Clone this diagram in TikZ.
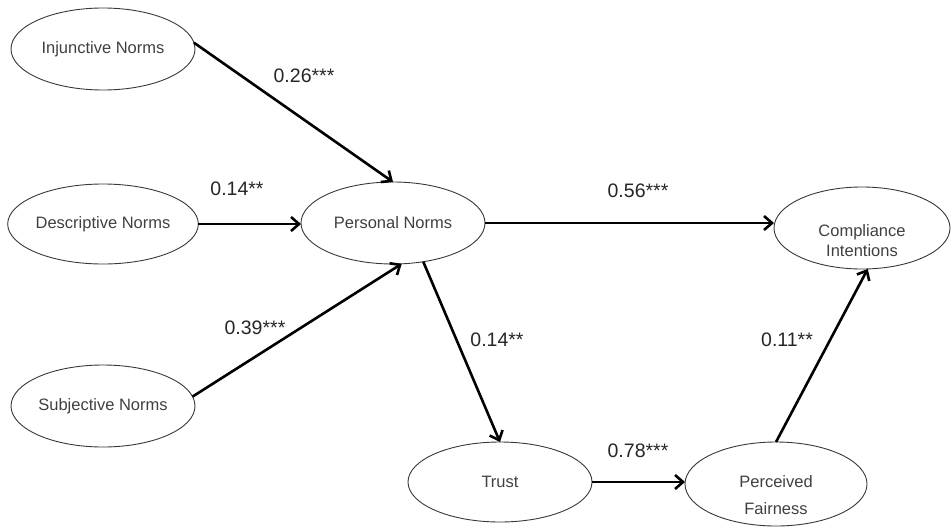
\documentclass[tikz,border=0pt]{standalone}
\usepackage{fontspec}
\setmainfont{Liberation Sans}
\usetikzlibrary{shapes.geometric,arrows.meta}
\begin{document}
\begin{tikzpicture}[x=1pt,y=-1pt,
  latent/.style={ellipse,draw=black!78,line width=0.9pt,inner sep=0pt,outer sep=0pt,
    font=\fontsize{16.5}{19}\selectfont,text=black!75},
  ltext/.style={inner sep=0pt,align=center,text=black!75},
  effect/.style={line width=2.6pt,-{Straight Barb[length=8pt,width=14pt]}},
  coef/.style={font=\fontsize{19.5}{22}\selectfont,text=black!85,inner sep=0pt}]
\useasboundingbox (0,0) rectangle (952,527);
% constructs
\node[latent,minimum width=184pt,minimum height=82pt] (inj) at (103,49) {Injunctive Norms};
\node[latent,minimum width=184pt,minimum height=80pt] (desc) at (103,224) {Descriptive Norms};
\node[latent,minimum width=184pt,minimum height=82pt] (subj) at (103,406) {Subjective Norms};
\node[latent,minimum width=184pt,minimum height=82pt] (pers) at (393,223) {Personal Norms};
\node[latent,minimum width=176pt,minimum height=82pt] (comp) at (862,228) {};
\node[ltext,font=\fontsize{16.5}{20}\selectfont] (comptext) at (862,241) {Compliance\\Intentions};
\node[latent,minimum width=184pt,minimum height=80pt] (trust) at (500,482) {Trust};
\node[latent,minimum width=182pt,minimum height=84pt] (pf) at (776,484) {};
\node[ltext,font=\fontsize{16.5}{27}\selectfont] (pftext) at (776,495) {Perceived\\Fairness};
% paths
\draw[effect] (inj.4) -- (pers.north);
\draw[effect] (desc.east) -- (desc.east -| pers.west);
\draw[effect] (subj.6) -- (pers.-78);
\draw[effect] (pers.east) -- (pers.east -| comp.west);
\draw[effect] (pers.-52) -- (trust.north);
\draw[effect] (trust.east) -- (trust.east -| pf.west);
\draw[effect] (pf.north) -- (comp.-82);
% coefficients
\node[coef] (c1) at (304,76) {0.26***};
\node[coef] (c2) at (237,189) {0.14**};
\node[coef] (c3) at (255,328) {0.39***};
\node[coef] (c4) at (638,191) {0.56***};
\node[coef] (c5) at (497,340) {0.14**};
\node[coef] (c6) at (787,340) {0.11**};
\node[coef] (c7) at (638,451) {0.78***};
\end{tikzpicture}
\end{document}
